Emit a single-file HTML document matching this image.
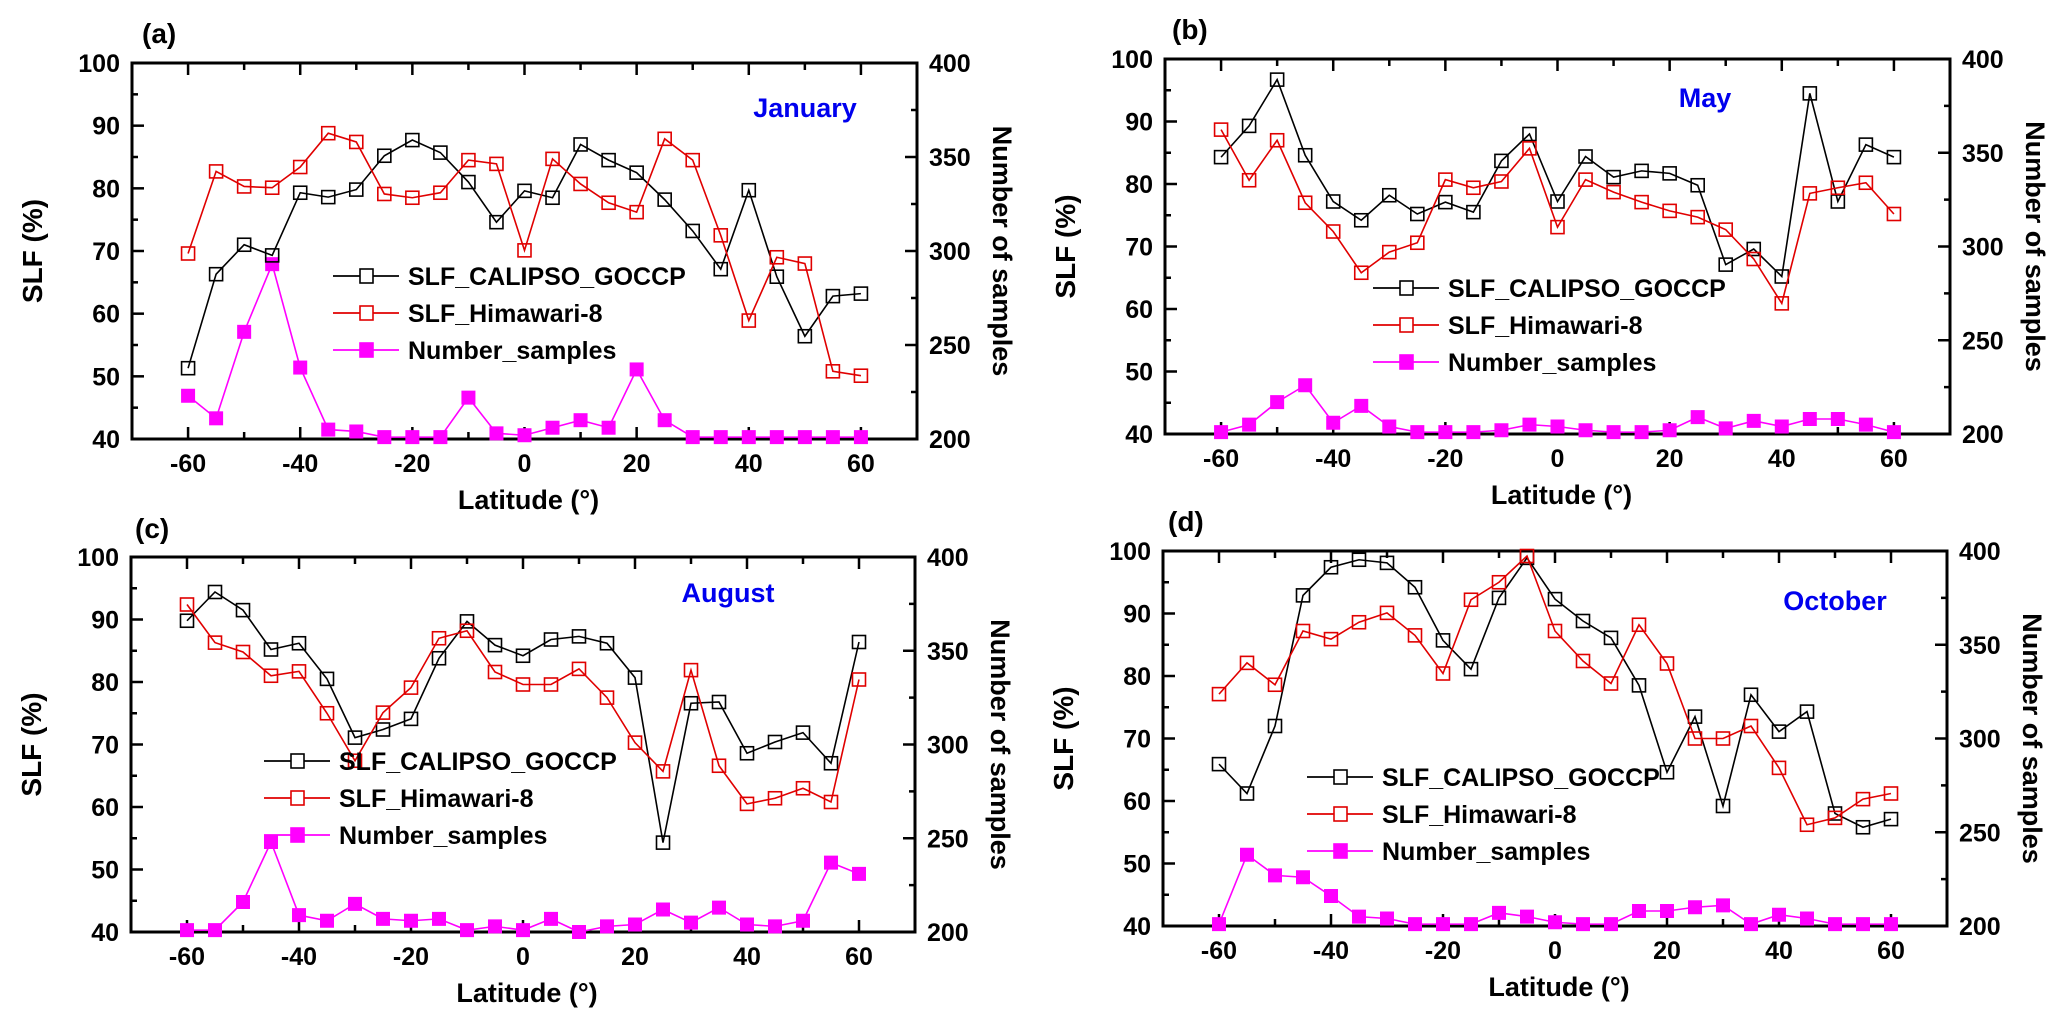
<!DOCTYPE html>
<html><head><meta charset="utf-8"><style>
html,body{margin:0;padding:0;background:#fff}
svg{display:block}
text{font-family:"Liberation Sans",Arial,sans-serif;font-weight:bold}
</style></head><body>
<svg id="chart" width="2067" height="1019" viewBox="0 0 2067 1019" xmlns="http://www.w3.org/2000/svg"></svg>
<script>
const lats = [-60,-55,-50,-45,-40,-35,-30,-25,-20,-15,-10,-5,0,5,10,15,20,25,30,35,40,45,50,55,60];
const xTickLabels = [-60,-40,-20,0,20,40,60];
const yLeftTicks = [40,50,60,70,80,90,100];
const yRightTicks = [200,250,300,350,400];
const months = ["January","May","August","October"];
const panelLetters = ["(a)","(b)","(c)","(d)"];

const calipsoJan = [51.3,66.3,71,69.3,79.3,78.6,79.8,85.2,87.7,85.7,81,74.6,79.6,78.5,87,84.5,82.5,78.2,73.2,67.1,79.7,65.9,56.4,62.8,63.2];
const himawariJan = [69.6,82.7,80.3,80.1,83.4,88.8,87.4,79.1,78.5,79.3,84.5,83.9,70.1,84.7,80.7,77.7,76.2,87.9,84.5,72.5,58.9,69,68,50.8,50.1];
const samplesJan = [223,211,257,293,238,205,204,201,201,201,222,203,202,206,210,206,237,210,201,201,201,201,201,201,201];

const calipsoMay = [84.3,89.3,96.7,84.6,77.2,74.2,78.2,75.2,77.1,75.5,83.7,88,77.2,84.4,81.1,82.1,81.7,79.8,67.1,69.6,65.2,94.5,77.2,86.3,84.3];
const himawariMay = [88.7,80.6,87,77,72.4,65.8,69.1,70.6,80.7,79.4,80.4,85.7,73.1,80.7,78.7,77.1,75.7,74.7,72.7,68,60.9,78.5,79.4,80.2,75.2];
const samplesMay = [201,205,217,226,206,215,204,201,201,201,202,205,204,202,201,201,202,209,203,207,204,208,208,205,201];

const calipsoAug = [89.8,94.4,91.5,85.2,86.2,80.5,71.1,72.4,74.1,83.8,89.7,85.9,84.2,86.8,87.3,86.2,80.7,54.3,76.6,76.8,68.6,70.4,71.9,67,86.4];
const himawariAug = [92.4,86.3,84.8,81,81.7,75,67.4,75.1,79.1,87,88.2,81.6,79.6,79.6,82.1,77.5,70.3,65.7,81.9,66.6,60.5,61.4,63,60.8,80.4];
const samplesAug = [201,201,216,248,209,206,215,207,206,207,201,203,201,207,200,203,204,212,205,213,204,203,206,237,231];

const calipsoOct = [65.9,61.2,72,92.9,97.4,98.6,98.1,94.2,85.7,81.1,92.5,98.9,92.3,88.8,86.1,78.5,64.6,73.5,59.2,77,71.1,74.3,58,55.8,57.1];
const himawariOct = [77.1,82.1,78.6,87.2,85.9,88.6,90.1,86.5,80.4,92.2,95,99.2,87.2,82.4,78.8,88.2,82,70,70,72,65.3,56.2,57.3,60.3,61.2];
const samplesOct = [201,238,227,226,216,205,204,201,201,201,207,205,202,201,201,208,208,210,211,201,206,204,201,201,201];

const NS = "http://www.w3.org/2000/svg";
const svg = document.getElementById('chart');
function mk(tag, attrs, parent){
  const e = document.createElementNS(NS, tag);
  for (const k in attrs) e.setAttribute(k, attrs[k]);
  (parent||svg).appendChild(e);
  return e;
}
const panels = [
  {l:132,t:63,r:917,b:439, cal:calipsoJan, him:himawariJan, num:samplesJan, mx:805, my:107, lgX:333, lgY:276, lab:[142,33]},
  {l:1165,t:59,r:1950,b:434, cal:calipsoMay, him:himawariMay, num:samplesMay, mx:1705, my:97, lgX:1373, lgY:288, lab:[1172,29]},
  {l:131,t:557,r:915,b:932, cal:calipsoAug, him:himawariAug, num:samplesAug, mx:728, my:592, lgX:264, lgY:761, lab:[135,528]},
  {l:1163,t:551,r:1947,b:926, cal:calipsoOct, him:himawariOct, num:samplesOct, mx:1835, my:600, lgX:1307, lgY:777, lab:[1168,521]}
];

panels.forEach((p, i) => {
  const g = mk('g', {});
  
  
  const xs = v => p.l + (v + 70) / 140 * (p.r - p.l);
  const ys = v => p.b - (v - 40) / 60 * (p.b - p.t);
  const yr = v => p.b - (v - 200) / 200 * (p.b - p.t);

  // ticks
  for (let v = 40; v <= 100; v += 5) {
    const len = v % 10 === 0 ? 12 : 6;
    const tk = mk('line', {x1:p.l, x2:p.l+len, y1:ys(v), y2:ys(v), stroke:'#000','stroke-width':2.5}, g);
    
    
  }
  for (let v = 200; v <= 400; v += 25) {
    const len = v % 50 === 0 ? 12 : 6;
    const tk = mk('line', {x1:p.r, x2:p.r-len, y1:yr(v), y2:yr(v), stroke:'#000','stroke-width':2.5}, g);
    
    
  }
  for (let v = -60; v <= 60; v += 10) {
    const len = v % 20 === 0 ? 12 : 7;
    const tt = mk('line', {x1:xs(v), x2:xs(v), y1:p.t, y2:p.t+len, stroke:'#000','stroke-width':2.5}, g);
    
    
    const tb = mk('line', {x1:xs(v), x2:xs(v), y1:p.b, y2:p.b-len, stroke:'#000','stroke-width':2.5}, g);
    
    
  }
  const frame = mk('rect', {x:p.l, y:p.t, width:p.r-p.l, height:p.b-p.t, fill:'none', stroke:'#000', 'stroke-width':3}, g);
  
  

  yLeftTicks.forEach(v => {
    const t = mk('text', {x:p.l-12, y:ys(v)+9, 'font-size':25, 'text-anchor':'end', fill:'#000'}, g);
    t.textContent = v;
    
    
  });
  yRightTicks.forEach(v => {
    const t = mk('text', {x:p.r+12, y:yr(v)+9, 'font-size':25, fill:'#000'}, g);
    t.textContent = v;
    
    
  });
  xTickLabels.forEach(v => {
    const t = mk('text', {x:xs(v), y:p.b+33, 'font-size':25, 'text-anchor':'middle', fill:'#000'}, g);
    t.textContent = v;
    
    
  });
  const xt = mk('text', {x:(p.l+p.r)/2+4, y:p.b+70, 'font-size':27, 'text-anchor':'middle', fill:'#000'}, g);
  xt.textContent = 'Latitude (°)';
  
  
  const cy = (p.t+p.b)/2;
  const yt = mk('text', {x:p.l-90, y:cy, 'font-size':28, 'text-anchor':'middle', fill:'#000', transform:`rotate(-90 ${p.l-90} ${cy})`}, g);
  yt.textContent = 'SLF (%)';
  
  
  const rx = p.r+76;
  const yt2 = mk('text', {x:rx, y:cy, 'font-size':27, 'text-anchor':'middle', fill:'#000', transform:`rotate(90 ${rx} ${cy})`}, g);
  yt2.textContent = 'Number of samples';
  
  
  const pl = mk('text', {x:p.lab[0], y:p.lab[1]+10, 'font-size':28, fill:'#000'}, g);
  pl.textContent = panelLetters[i];
  
  
  const mt = mk('text', {x:p.mx, y:p.my+10, 'font-size':27, 'text-anchor':'middle', fill:'#0000ee'}, g);
  mt.textContent = months[i];
  
  

  const series = [
    {d:p.num, c:'#ff00ff', fill:true, y:yr, name:'number-samples'},
    {d:p.cal, c:'#000', fill:false, y:ys, name:'slf-calipso-goccp'},
    {d:p.him, c:'#e00000', fill:false, y:ys, name:'slf-himawari-8'}
  ];
  series.forEach(s => {
    const pts = s.d.map((v, k) => xs(lats[k]) + ',' + s.y(v)).join(' ');
    const ln = mk('polyline', {points:pts, fill:'none', stroke:s.c, 'stroke-width':1.6}, g);
    
    
    s.d.forEach((v, k) => {
      const sz = 13;
      const m = mk('rect', {x:xs(lats[k])-sz/2, y:s.y(v)-sz/2, width:sz, height:sz,
        fill: s.fill ? s.c : 'none', stroke:s.c, 'stroke-width': s.fill ? 1 : 1.6}, g);
      
      
    });
  });

  const lg = mk('g', {}, g);
  
  
  const entries = [
    ['SLF_CALIPSO_GOCCP', '#000', false],
    ['SLF_Himawari-8', '#e00000', false],
    ['Number_samples', '#ff00ff', true]
  ];
  entries.forEach((e, k) => {
    const yy = p.lgY + k * 37;
    const ent = mk('g', {}, lg);
    
    
    mk('line', {x1:p.lgX, x2:p.lgX+66, y1:yy, y2:yy, stroke:e[1], 'stroke-width':1.8}, ent);
    mk('rect', {x:p.lgX+27, y:yy-7, width:13, height:14, fill:e[2]?e[1]:'#fff', stroke:e[1], 'stroke-width':1.6}, ent);
    const t = mk('text', {x:p.lgX+75, y:yy+9, 'font-size':25, fill:'#000'}, ent);
    t.textContent = e[0];
  });
});
</script>
</body></html>
